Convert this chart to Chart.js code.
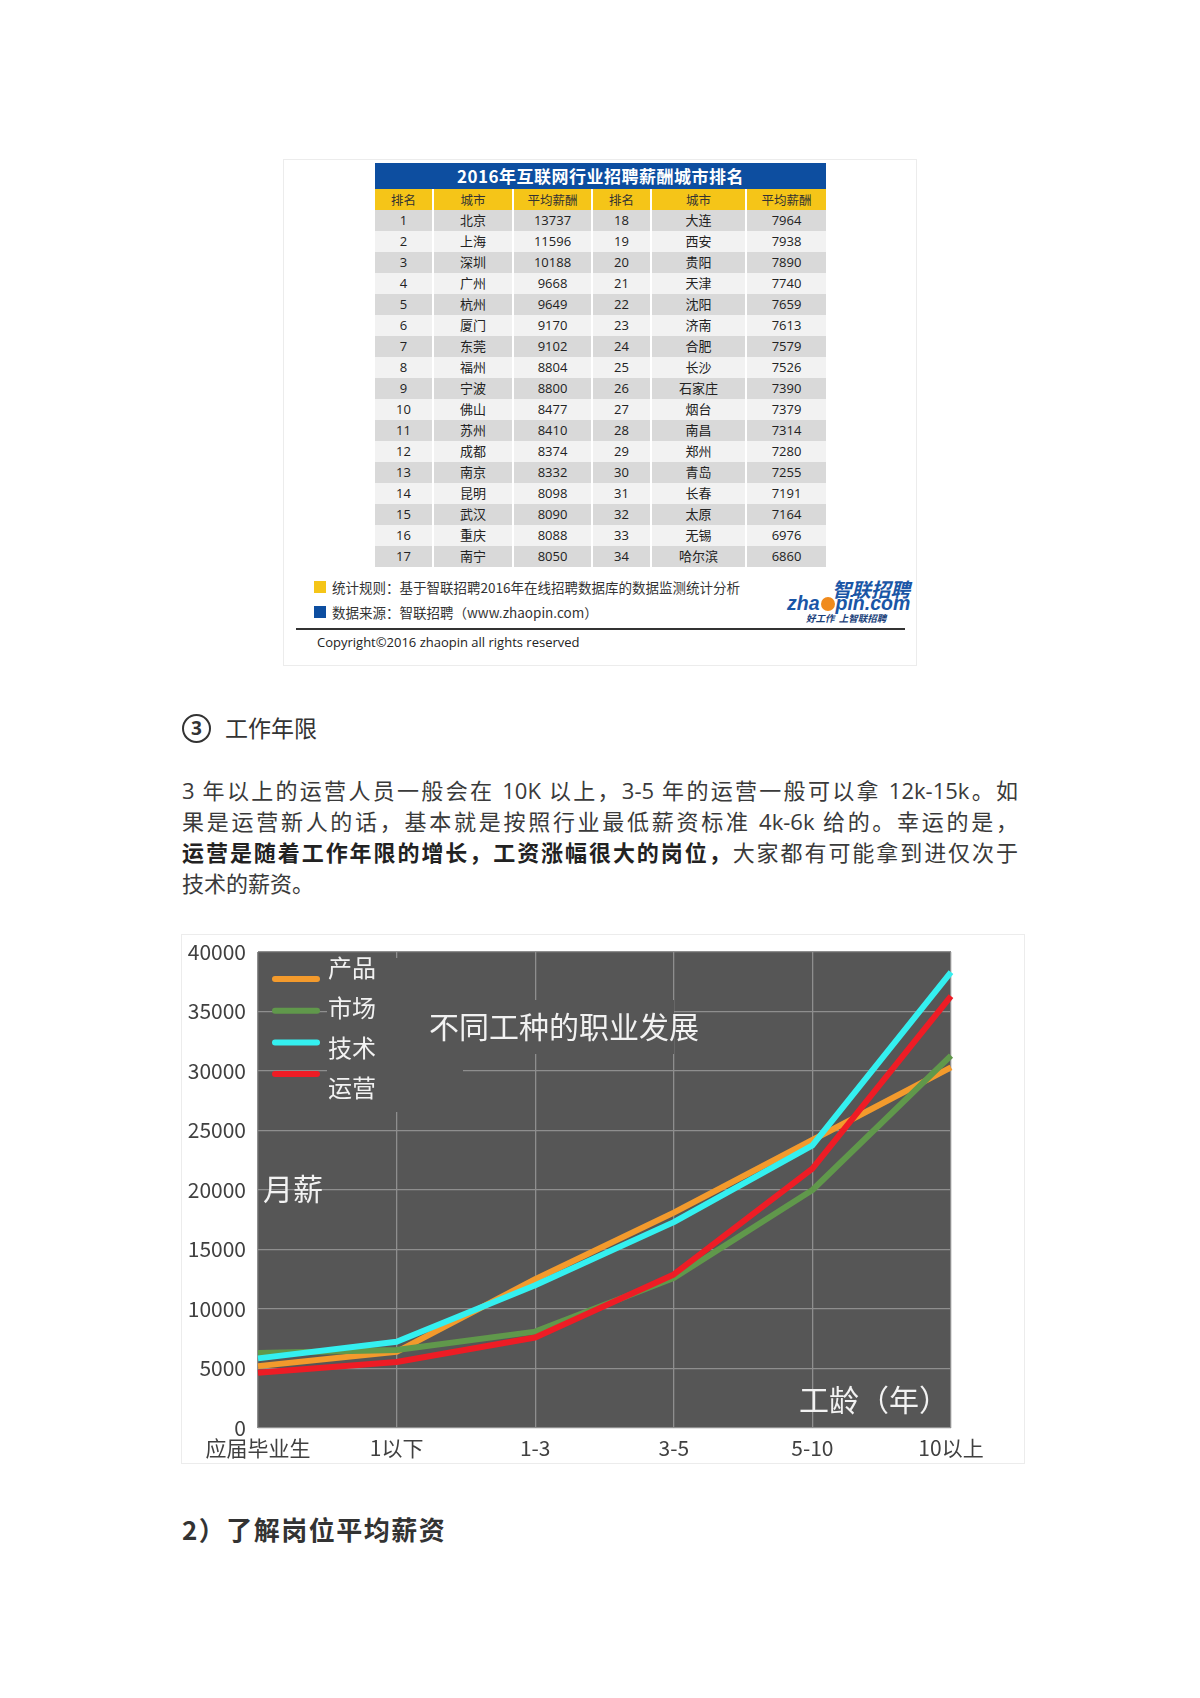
<!DOCTYPE html>
<html>
<head>
<meta charset="utf-8">
<script src="https://cdn.jsdelivr.net/npm/chart.js@4/dist/chart.umd.min.js"></script>
<style>
html,body{margin:0;padding:0;background:#fff;}
body{width:1200px;height:1698px;position:relative;overflow:hidden;font-family:"Noto Sans CJK SC","Noto Sans",sans-serif;color:#333;}
.abs{position:absolute;}
#tblbox{left:283px;top:159px;width:634px;height:507px;border:1px solid #ececec;box-sizing:border-box;}
#tbl{left:375px;top:163px;width:451px;}
#tbl .ttl{height:26px;line-height:26px;background:#0d4ea0;color:#fff;font-weight:bold;font-size:17px;text-align:center;letter-spacing:0.5px;}
#tbl table{border-collapse:collapse;width:451px;table-layout:fixed;font-size:13px;color:#222;font-family:"Open Sans","Noto Sans CJK SC",sans-serif;}
#tbl td{height:21px;padding:0;text-align:center;border-left:2px solid #fff;border-right:2px solid #fff;line-height:21px;white-space:nowrap;}
#tbl td:first-child{border-left:0;}
#tbl td:last-child{border-right:0;}
#tbl tr.hd td{background:#f5c518;color:#333;font-family:"Noto Sans CJK SC",sans-serif;font-size:12.5px;}
#tbl tr.odd td{background:#d9d9d9;}
#tbl tr.even td{background:#f2f2f2;}
.sq{width:12px;height:12px;}
.foot{font-size:13.5px;color:#333;white-space:nowrap;line-height:18px;}
.hline{left:296px;top:628px;width:609px;height:2px;background:#333;}
.copy{left:317px;top:633px;font-size:13px;color:#222;font-family:"Open Sans","Noto Sans CJK SC",sans-serif;line-height:18px;white-space:nowrap;}
.logo1{left:832px;top:577px;font-size:19.5px;font-weight:bold;font-style:italic;color:#1a56a6;line-height:24px;white-space:nowrap;}
.logo2{left:787px;top:590px;font-size:19.5px;font-weight:bold;font-style:italic;color:#1a56a6;line-height:26px;white-space:nowrap;font-family:"Liberation Sans",Arial,sans-serif;}
.logo2 .ball{display:inline-block;width:14px;height:14px;border-radius:50%;background:#f08a1c;vertical-align:-1px;margin:0 1px;}
.logo3{left:806px;top:612px;font-size:9.5px;font-weight:bold;font-style:italic;color:#1a3f7a;line-height:13px;white-space:nowrap;}
.h3{left:182px;top:711px;font-size:23px;line-height:32px;color:#333;white-space:nowrap;}
.circ{display:inline-block;width:25px;height:25px;border:2px solid #333;border-radius:50%;text-align:center;line-height:25px;font-size:19px;font-weight:bold;vertical-align:2px;margin-right:14px;font-family:"Open Sans",sans-serif;}
.para{left:182px;top:775px;width:836px;font-size:22px;line-height:31px;color:#3a3a3a;font-family:"Open Sans","Noto Sans CJK SC",sans-serif;}
.para div{text-align:justify;text-align-last:justify;white-space:nowrap;}
.para div.last{text-align-last:left;}
.para b{color:#222;font-weight:bold;}
#frame{left:181px;top:934px;width:844px;height:530px;border:1px solid #ececec;box-sizing:border-box;}
#c{position:absolute;left:181px;top:934px;}
.h2{left:182px;top:1513px;font-size:26px;font-weight:bold;line-height:32px;color:#333;white-space:nowrap;letter-spacing:1.5px;}
</style>
</head>
<body>
<div id="tblbox" class="abs"></div>
<div id="tbl" class="abs">
  <div class="ttl">2016年互联网行业招聘薪酬城市排名</div>
  <table id="rank"></table>
</div>
<div class="abs sq" style="left:314px;top:581px;background:#f5c518;"></div>
<div class="abs foot" style="left:332px;top:578px;">统计规则：基于智联招聘2016年在线招聘数据库的数据监测统计分析</div>
<div class="abs sq" style="left:314px;top:606px;background:#0d4ea0;"></div>
<div class="abs foot" style="left:332px;top:603px;">数据来源：智联招聘（www.zhaopin.com）</div>
<div class="abs logo1">智联招聘</div>
<div class="abs logo2">zha<span class="ball"></span>pin.com</div>
<div class="abs logo3">好工作&nbsp;&nbsp;上智联招聘</div>
<div class="abs hline"></div>
<div class="abs copy">Copyright©2016 zhaopin all rights reserved</div>

<div class="abs h3"><span class="circ">3</span>工作年限</div>
<div class="abs para">
  <div>3 年以上的运营人员一般会在 10K 以上，3-5 年的运营一般可以拿 12k-15k。如</div>
  <div>果是运营新人的话，基本就是按照行业最低薪资标准 4k-6k 给的。幸运的是，</div>
  <div><b>运营是随着工作年限的增长，工资涨幅很大的岗位，</b>大家都有可能拿到进仅次于</div>
  <div class="last">技术的薪资。</div>
</div>

<div id="frame" class="abs"></div>
<canvas id="c" width="844" height="530"></canvas>

<div class="abs h2">2）了解岗位平均薪资</div>

<script>
// ---- Table data ----
const rankHeaders = ['排名','城市','平均薪酬','排名','城市','平均薪酬'];
const leftRanks = [1,2,3,4,5,6,7,8,9,10,11,12,13,14,15,16,17];
const leftCities = ['北京','上海','深圳','广州','杭州','厦门','东莞','福州','宁波','佛山','苏州','成都','南京','昆明','武汉','重庆','南宁'];
const leftPay = [13737,11596,10188,9668,9649,9170,9102,8804,8800,8477,8410,8374,8332,8098,8090,8088,8050];
const rightRanks = [18,19,20,21,22,23,24,25,26,27,28,29,30,31,32,33,34];
const rightCities = ['大连','西安','贵阳','天津','沈阳','济南','合肥','长沙','石家庄','烟台','南昌','郑州','青岛','长春','太原','无锡','哈尔滨'];
const rightPay = [7964,7938,7890,7740,7659,7613,7579,7526,7390,7379,7314,7280,7255,7191,7164,6976,6860];

// ---- Chart data ----
const categories = ['应届毕业生','1以下','1-3','3-5','5-10','10以上'];
const seriesNames = ['产品','市场','技术','运营'];
const productPay = [5200, 6400, 12500, 18100, 24200, 30300];
const marketPay  = [6300, 6550, 8100, 12600, 20000, 31300];
const techPay    = [5850, 7250, 12000, 17300, 23750, 38300];
const opsPay     = [4650, 5550, 7600, 12900, 21800, 36300];
const yMin = 0, yMax = 40000, yStep = 5000;
const chartTitle = '不同工种的职业发展';
const yTitle = '月薪';
const xTitle = '工龄（年）';

// build table
(function(){
  const t = document.getElementById('rank');
  const colW = [58,80,79,59,95,80];
  let html = '<colgroup>' + colW.map(w=>'<col style="width:'+w+'px">').join('') + '</colgroup>';
  html += '<tr class="hd">' + rankHeaders.map(h=>'<td>'+h+'</td>').join('') + '</tr>';
  for (let i=0;i<leftRanks.length;i++){
    html += '<tr class="'+(i%2===0?'odd':'even')+'"><td>'+leftRanks[i]+'</td><td>'+leftCities[i]+'</td><td>'+leftPay[i]+
      '</td><td>'+rightRanks[i]+'</td><td>'+rightCities[i]+'</td><td>'+rightPay[i]+'</td></tr>';
  }
  t.innerHTML = html;
})();

const FONT = '"Noto Sans CJK SC","Noto Sans",sans-serif';
const PLOT_BG = '#565656';
const GRID = '#8e8e8e';
const colors = ['#f39a2c','#60984b','#34f0f0','#ee1c25'];

const deco = {
  id:'deco',
  beforeDraw(chart){
    const a = chart.chartArea, c = chart.ctx;
    c.save();
    c.fillStyle = PLOT_BG;
    c.fillRect(a.left, a.top, a.right-a.left, a.bottom-a.top);
    c.restore();
  },
  beforeDatasetsDraw(chart){
    // boxes of the embedded legend/title that hide the grid lines
    const a = chart.chartArea, c = chart.ctx;
    c.save();
    c.fillStyle = PLOT_BG;
    c.fillRect(a.left+69, a.top+6, 136, 154);
    c.fillRect(a.left+69, a.top+48, 347, 54);
    c.restore();
  },
  afterDraw(chart){
    const a = chart.chartArea, c = chart.ctx;
    c.save();
    // legend
    chart.data.datasets.forEach((ds, i)=>{
      const ly = a.top + 27 + i*31.7;
      c.strokeStyle = ds.borderColor;
      c.lineWidth = 6;
      c.lineCap = 'round';
      c.beginPath();
      c.moveTo(a.left+17, ly);
      c.lineTo(a.left+59, ly);
      c.stroke();
      c.fillStyle = '#f2f2f2';
      c.font = '24px ' + FONT;
      c.textBaseline = 'middle';
      c.textAlign = 'left';
      c.fillText(ds.label, a.left+70, a.top + 16 + i*40);
    });
    c.fillStyle = '#f2f2f2';
    c.font = '30px ' + FONT;
    c.textBaseline = 'middle';
    c.fillText(chartTitle, a.left+171, a.top+75);
    c.fillText(yTitle, a.left+5, a.top+237);
    c.fillText(xTitle, a.left+541, a.top+448);
    c.restore();
  }
};

new Chart(document.getElementById('c'), {
  type:'line',
  data:{
    labels: categories,
    datasets:[
      {label:seriesNames[0], data:productPay, borderColor:colors[0], order:3},
      {label:seriesNames[1], data:marketPay,  borderColor:colors[1], order:2},
      {label:seriesNames[2], data:techPay,    borderColor:colors[2], order:0},
      {label:seriesNames[3], data:opsPay,     borderColor:colors[3], order:1}
    ]
  },
  options:{
    responsive:false,
    devicePixelRatio:1,
    animation:false,
    layout:{padding:{left:0, top:18, right:74, bottom:0}},
    elements:{
      point:{radius:0, hoverRadius:0},
      line:{tension:0, borderWidth:6, borderJoinStyle:'round', borderCapStyle:'butt', fill:false}
    },
    plugins:{legend:{display:false}, tooltip:{enabled:false}},
    scales:{
      x:{
        type:'category',
        offset:false,
        grid:{color:GRID, lineWidth:1.3, drawTicks:false},
        border:{display:false},
        ticks:{color:'#404040', font:{family:FONT, size:21}, padding:7, maxRotation:0, autoSkip:false},
        afterFit(s){ s.height = 36; s.paddingLeft = 0; s.paddingRight = 0; }
      },
      y:{
        min:yMin, max:yMax,
        grid:{color:GRID, lineWidth:1.3, drawTicks:false},
        border:{display:false},
        ticks:{stepSize:yStep, color:'#404040', font:{family:FONT, size:21}, padding:12, callback:v=>String(v)},
        afterFit(s){ s.width = 77; s.paddingTop = 0; s.paddingBottom = 0; }
      }
    }
  },
  plugins:[deco]
});
</script>
</body>
</html>
